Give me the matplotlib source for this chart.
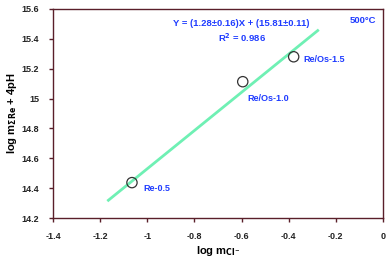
import matplotlib.pyplot as plt

# data
log_mcl = [-1.065, -0.595, -0.379]
log_mre = [14.437, 15.113, 15.28]
names = ['Re-0.5', 'Re/Os-1.0', 'Re/Os-1.5']

# regression line Y = 1.28 X + 15.81 over the plotted range
fit_x = [-1.165, -0.277]
slope, icpt = 1.28, 15.81
fit_y = [slope * x + icpt for x in fit_x]

plt.rcParams['font.family'] = ['Liberation Sans', 'DejaVu Sans']
plt.rcParams['font.weight'] = 'bold'

axis_col = '#5a1f2a'
blue = '#1f3cff'

fig = plt.figure(figsize=(3.92, 2.62), dpi=100)
ax = fig.add_axes([53/392, 1 - 218/262, 330/392, 209/262])

ax.plot(fit_x, fit_y, color='#6ff0b4', lw=2.0, zorder=2)
ax.scatter(log_mcl, log_mre, s=55, facecolors='none', edgecolors='#333333', linewidths=0.9, zorder=3)

offsets = [(0.05, -0.04), (0.02, -0.11), (0.04, -0.02)]
for x, y, n, (dx, dy) in zip(log_mcl, log_mre, names, offsets):
    ax.text(x + dx, y + dy, n, color=blue, fontsize=6.5, fontweight='bold', va='center', ha='left')

ax.text(-0.6, 15.503, 'Y = (1.28±0.16)X + (15.81±0.11)', color=blue, fontsize=6.8,
        fontweight='bold', ha='center', va='center')
ax.text(-0.6, 15.41, 'R$^2$ = 0.986', color=blue, fontsize=6.8, fontweight='bold', ha='center', va='center')
ax.text(-0.085, 15.52, '500°C', color=blue, fontsize=6.8, fontweight='bold', ha='center', va='center')

ax.set_xlim(-1.4, 0)
ax.set_ylim(14.2, 15.6)
ax.set_xticks([-1.4, -1.2, -1, -0.8, -0.6, -0.4, -0.2, 0])
ax.set_xticklabels(['-1.4', '-1.2', '-1', '-0.8', '-0.6', '-0.4', '-0.2', '0'])
ax.set_yticks([14.2, 14.4, 14.6, 14.8, 15, 15.2, 15.4, 15.6])
ax.set_yticklabels(['14.2', '14.4', '14.6', '14.8', '15', '15.2', '15.4', '15.6'])

for s in ax.spines.values():
    s.set_color(axis_col)
    s.set_linewidth(1.0)
ax.tick_params(direction='out', length=3, width=1, color=axis_col, labelsize=6.5, labelcolor='#222222', pad=7)

ax.set_xlabel(r'log m$_{\mathbf{Cl}^{\mathbf{-}}}$', fontsize=8, fontweight='bold', labelpad=2)
ax.set_ylabel(r'log m$_{\mathbf{\Sigma Re}}$ + 4pH', fontsize=8, fontweight='bold', labelpad=2)

fig.savefig('out.png', dpi=100)
